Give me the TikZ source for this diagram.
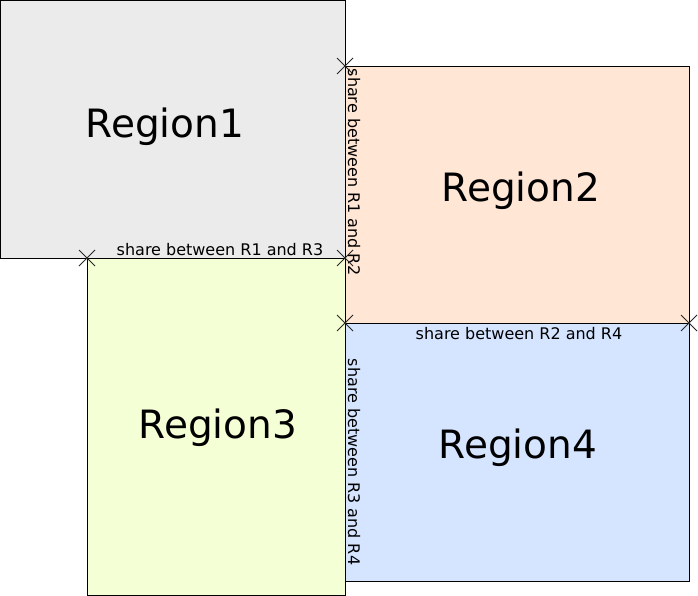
\documentclass[tikz,border=0pt]{standalone}
\usepackage{fontspec}
\setmainfont{DejaVu Sans}
\begin{document}
\begin{tikzpicture}[x=1pt,y=-1pt,
  region/.style={draw=black,line width=0.9pt},
  big/.style={font=\fontsize{39}{45}\selectfont,inner sep=0pt},
  small/.style={font=\fontsize{16}{19}\selectfont,inner sep=0pt,text=black},
  xmark/.style={draw=black!85,line width=0.9pt}]
\useasboundingbox (0,0) rectangle (698,596);
\definecolor{rone}{HTML}{EBEBEB}
\definecolor{rtwo}{HTML}{FFE6D5}
\definecolor{rthree}{HTML}{F5FFD5}
\definecolor{rfour}{HTML}{D5E5FF}
\filldraw[region,fill=rone] (0.5,0.5) rectangle (345,258);
\filldraw[region,fill=rtwo] (345,66) rectangle (689,323);
\filldraw[region,fill=rthree] (87,258) rectangle (345,595.5);
\filldraw[region,fill=rfour] (345,323) rectangle (689,581);
\node[big] (t1) at (165,127) {Region1};
\node[big] (t2) at (521,191) {Region2};
\node[big] (t3) at (218,428) {Region3};
\node[big] (t4) at (518,448) {Region4};
\node[small] (s13) at (220,250) {share between R1 and R3};
\node[small] (s24) at (519,334) {share between R2 and R4};
\node[small,rotate=-90] (s12) at (354,172) {share between R1 and R2};
\node[small,rotate=-90] (s34) at (354,462) {share between R3 and R4};
\coordinate (a) at (345,66);
\coordinate (b) at (87,258);
\coordinate (c) at (345,258);
\coordinate (d) at (345,323);
\coordinate (e) at (689,323);
\foreach \n in {a,b,c,d,e}{
  \draw[xmark] ([shift={(-8,-8)}]\n) -- ([shift={(8,8)}]\n);
  \draw[xmark] ([shift={(-8,8)}]\n) -- ([shift={(8,-8)}]\n);
}
\end{tikzpicture}
\end{document}
